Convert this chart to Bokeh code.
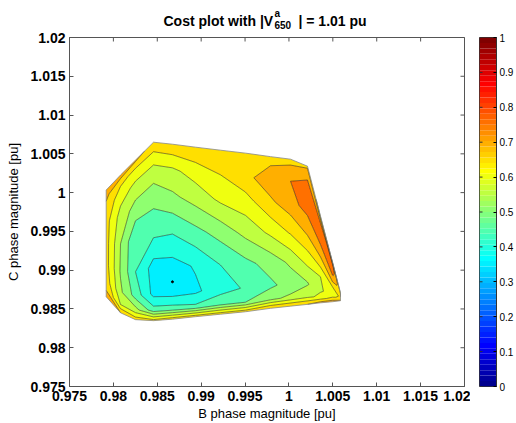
import numpy as np
from bokeh.plotting import figure
from bokeh.models import FixedTicker
from bokeh.core.properties import value
from bokeh.layouts import row, column
from bokeh.embed import file_html
from bokeh.resources import INLINE

# ---------------- data ----------------
# B phase magnitude of each mesh column of the feasible region
b_mag = [0.97918, 0.98081, 0.98252, 0.98457, 0.98673, 0.98935, 0.99220,
         0.99505, 0.99790, 1.00018, 1.00211, 1.00359, 1.00496, 1.00587]
# lowest and highest C phase magnitude of the feasible region in each column
c_low = [0.98657, 0.98451, 0.98362, 0.98349, 0.98368, 0.98400, 0.98432,
         0.98464, 0.98508, 0.98536, 0.98559, 0.98579, 0.98593, 0.98606]
c_high = [1.00033, 1.00226, 1.00419, 1.00650, 1.00624, 1.00586, 1.00547,
          1.00509, 1.00464, 1.00431, 1.00341, 0.99699, 0.99107, 0.98709]
# relative position of the sample rows between c_low and c_high
row_frac = [0.0, 0.06, 0.15, 0.30, 0.50, 0.70, 0.85, 0.94, 1.0]
# cost in each column, from c_low (first) to c_high (last)
cost_by_column = [
    [0.72, 0.70, 0.68, 0.67, 0.67, 0.67, 0.69, 0.71, 0.73],
    [0.70, 0.60, 0.56, 0.545, 0.55, 0.58, 0.62, 0.66, 0.73],
    [0.68, 0.57, 0.48, 0.45, 0.455, 0.53, 0.59, 0.64, 0.71],
    [0.67, 0.47, 0.385, 0.38, 0.465, 0.52, 0.585, 0.645, 0.69],
    [0.68, 0.47, 0.38, 0.38, 0.455, 0.54, 0.59, 0.65, 0.69],
    [0.68, 0.46, 0.39, 0.405, 0.485, 0.57, 0.62, 0.665, 0.69],
    [0.68, 0.49, 0.43, 0.45, 0.52, 0.61, 0.65, 0.67, 0.69],
    [0.68, 0.50, 0.455, 0.485, 0.565, 0.63, 0.685, 0.69, 0.68],
    [0.70, 0.54, 0.49, 0.52, 0.61, 0.69, 0.73, 0.70, 0.68],
    [0.70, 0.56, 0.52, 0.56, 0.655, 0.73, 0.75, 0.71, 0.68],
    [0.70, 0.58, 0.545, 0.61, 0.70, 0.77, 0.775, 0.73, 0.69],
    [0.72, 0.62, 0.59, 0.60, 0.69, 0.76, 0.78, 0.74, 0.63],
    [0.73, 0.68, 0.63, 0.62, 0.70, 0.76, 0.78, 0.76, 0.64],
    [0.73, 0.70, 0.68, 0.66, 0.65, 0.65, 0.65, 0.64, 0.63],
]
contour_levels = [0.35, 0.40, 0.45, 0.50, 0.55, 0.60, 0.65, 0.70, 0.75, 0.80]
opt_b = [0.98673]
opt_c = [0.98850]

x_ticks = [0.975, 0.98, 0.985, 0.99, 0.995, 1.0, 1.005, 1.01, 1.015, 1.02]
x_tick_labels = ["0.975", "0.98", "0.985", "0.99", "0.995", "1", "1.005", "1.01", "1.015", "1.02"]
y_ticks = [0.975, 0.98, 0.985, 0.99, 0.995, 1.0, 1.005, 1.01, 1.015, 1.02]
y_tick_labels = ["0.975", "0.98", "0.985", "0.99", "0.995", "1", "1.005", "1.01", "1.015", "1.02"]
cb_ticks = [0.0, 0.1, 0.2, 0.3, 0.4, 0.5, 0.6, 0.7, 0.8, 0.9, 1.0]
cb_tick_labels = ["0", "0.1", "0.2", "0.3", "0.4", "0.5", "0.6", "0.7", "0.8", "0.9", "1"]


# ---------------- MATLAB jet colormap ----------------
def matlab_jet(m=64):
    n = int(np.ceil(m / 4))
    u = np.concatenate([np.arange(1, n + 1) / n, np.ones(n - 1), np.arange(n, 0, -1) / n])
    g = int(np.ceil(n / 2)) - (1 if m % 4 == 1 else 0) + np.arange(1, len(u) + 1)
    r = g + n
    b = g - n
    J = np.zeros((m, 3))
    for ch, idxs in enumerate((r, g, b)):
        for idx, val in zip(idxs, u):
            if 1 <= idx <= m:
                J[idx - 1, ch] = val
    return ["#%02x%02x%02x" % tuple(int(round(c * 255)) for c in rgb) for rgb in J]


jet = matlab_jet(64)
fill_palette = [jet[min(int(v * 64), 63)] for v in contour_levels[:-1]]

# ---------------- mesh ----------------
frac = np.array(row_frac)[:, None]
lo = np.array(c_low)[None, :]
hi = np.array(c_high)[None, :]
X = np.tile(np.array(b_mag), (len(row_frac), 1))
Y = lo + frac * (hi - lo)
Z = np.array(cost_by_column).T

FONT = "Liberation Sans"
AX_COLOR = "#555555"
TITLE_H = 31

# ---------------- title strip ----------------
tf = figure(width=516, height=TITLE_H, x_range=(0, 516), y_range=(TITLE_H, 0),
            toolbar_location=None, output_backend="svg",
            x_axis_location=None, y_axis_location=None, min_border=0)
tf.grid.visible = False
tf.outline_line_color = None
tf.text(x=[163, 298], y=[20.5, 20.5], text=["Cost plot with |V", "| = 1.01 pu"],
        text_font=value(FONT), text_font_size="14px", text_font_style="bold",
        text_color="black", text_baseline="alphabetic", text_align="left")
tf.text(x=[274, 274], y=[13, 24.5], text=["a", "650"],
        text_font=value(FONT), text_font_size="10px", text_font_style="bold",
        text_color="black", text_baseline="alphabetic", text_align="left")

# ---------------- main plot ----------------
p = figure(width=470, height=423 - TITLE_H, x_range=(0.975, 1.02), y_range=(0.975, 1.02),
           toolbar_location=None, output_backend="svg",
           min_border_left=69, min_border_right=6, min_border_top=37 - TITLE_H,
           min_border_bottom=36)
p.grid.visible = False
p.outline_line_color = AX_COLOR
p.background_fill_color = "white"
p.border_fill_color = "white"

p.contour(X, Y, Z, contour_levels, fill_color=fill_palette,
          line_color="black", line_width=0.6, line_alpha=0.75)

# outline of the feasible region
bx = list(b_mag) + list(b_mag[::-1]) + [b_mag[0]]
by = list(c_low) + list(c_high[::-1]) + [c_low[0]]
p.line(bx, by, line_color="#888888", line_width=0.8)
p.scatter(opt_b, opt_c, size=2, color="black")

for ax, ticks, labels in ((p.xaxis[0], x_ticks, x_tick_labels), (p.yaxis[0], y_ticks, y_tick_labels)):
    ax.ticker = FixedTicker(ticks=ticks)
    ax.major_label_overrides = dict(zip(ticks, labels))
    ax.major_label_text_font = FONT
    ax.major_label_text_font_size = "14px"
    ax.major_label_text_font_style = "bold"
    ax.major_label_text_color = "black"
    ax.major_tick_in = 4
    ax.major_tick_out = 0
    ax.minor_tick_line_color = None
    ax.axis_line_color = AX_COLOR
    ax.major_tick_line_color = AX_COLOR
    ax.axis_label_text_font = FONT
    ax.axis_label_text_font_size = "13px"
    ax.axis_label_text_font_style = "normal"
    ax.axis_label_text_color = "black"
    ax.major_label_standoff = 4

p.xaxis.axis_label = "B phase magnitude [pu]"
p.xaxis.axis_label_standoff = 2
p.yaxis.axis_label = "C phase magnitude [pu]"
p.yaxis.axis_label_standoff = 6

# tick marks on the top and right sides of the box (inside only; the rest is clipped)
p.scatter([x_ticks[-1]] * len(y_ticks), y_ticks, marker="dash", size=8,
          line_color=AX_COLOR, line_width=1)
p.scatter(x_ticks, [y_ticks[-1]] * len(x_ticks), marker="dash", angle=np.pi / 2, size=8,
          line_color=AX_COLOR, line_width=1)

# ---------------- colour bar ----------------
cb = figure(width=46, height=423 - TITLE_H, x_range=(0, 1), y_range=(0, 1),
            toolbar_location=None, output_backend="svg",
            x_axis_location=None, y_axis_location="right",
            min_border_left=9, min_border_right=16, min_border_top=37 - TITLE_H,
            min_border_bottom=36)
cb.grid.visible = False
cb.outline_line_color = "#333333"
cb.border_fill_color = "white"
nb = len(jet)
cb.quad(left=0, right=1, bottom=[i / nb for i in range(nb)], top=[(i + 1) / nb for i in range(nb)],
        fill_color=jet, line_color=None)
cb.scatter([0] * len(cb_ticks), cb_ticks, marker="dash", size=6, line_color="#333333", line_width=1)
cax = cb.yaxis[0]
cax.ticker = FixedTicker(ticks=cb_ticks)
cax.major_label_overrides = dict(zip(cb_ticks, cb_tick_labels))
cax.major_label_text_font = FONT
cax.major_label_text_font_size = "10px"
cax.major_label_text_color = "black"
cax.major_tick_in = 3
cax.major_tick_out = 0
cax.minor_tick_line_color = None
cax.axis_line_color = "#333333"
cax.major_label_standoff = 3

layout = column(tf, row(p, cb))
open("out.html", "w").write(file_html(layout, INLINE))
